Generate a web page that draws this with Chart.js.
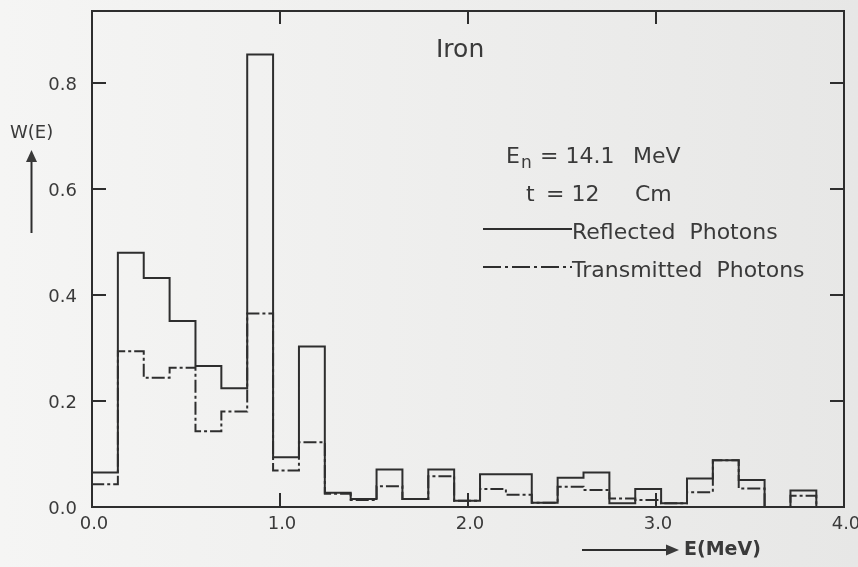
<!DOCTYPE html>
<html>
<head>
<meta charset="utf-8">
<script src="https://cdn.jsdelivr.net/npm/chart.js@4.4.0/dist/chart.umd.min.js"></script>
<style>
  html, body { margin: 0; padding: 0; }
  body {
    width: 858px; height: 567px; overflow: hidden;
    background: linear-gradient(to right, #f5f5f4 0%, #efefee 45%, #e7e7e6 100%);
  }
  #wrap { position: relative; width: 858px; height: 567px; }
</style>
</head>
<body>
<div id="wrap"><canvas id="spectrum"></canvas></div>
<script>
// photon spectrum W(E) per energy bin, iron slab, 14.1 MeV neutrons
const binWidth = 0.1376; // MeV
const reflected = [
  0.065, 0.480, 0.432, 0.351, 0.266, 0.224, 0.854, 0.094, 0.303, 0.027,
  0.015, 0.071, 0.015, 0.071, 0.012, 0.062, 0.062, 0.008, 0.055, 0.065,
  0.007, 0.034, 0.007, 0.054, 0.088, 0.051, 0.000, 0.031,
];
const transmitted = [
  0.043, 0.294, 0.244, 0.263, 0.143, 0.180, 0.365, 0.069, 0.122, 0.025,
  0.013, 0.039, 0.015, 0.058, 0.012, 0.034, 0.023, 0.008, 0.038, 0.032,
  0.016, 0.013, 0.007, 0.028, 0.088, 0.035, 0.000, 0.021,
];
const xTicks = [0, 1, 2, 3, 4];
const xTickLabels = ["0.0", "1.0", "2.0", "3.0", "4.0"];
const yTicks = [0, 0.2, 0.4, 0.6, 0.8];
const yTickLabels = ["0.0", "0.2", "0.4", "0.6", "0.8"];

const INK = "#2e2e2e";
const TEXT = "#3a3a3a";
const FONT = "'DejaVu Sans', sans-serif";

// histogram outline: one point per bin at its left edge; with stepped "before"
// the level holds across the bin and jumps at the next edge
function histogram(values) {
  const pts = [{ x: 0, y: 0 }];
  values.forEach((v, i) => pts.push({ x: i * binWidth, y: v }));
  pts.push({ x: values.length * binWidth, y: 0 });
  return pts;
}

const framePlugin = {
  id: "frame",
  afterDatasetsDraw(chart) {
    const ctx = chart.ctx;
    const { left, right, top, bottom } = chart.chartArea;
    const xs = chart.scales.x;
    const ys = chart.scales.y;
    const tick = 14;

    ctx.save();
    ctx.strokeStyle = INK;
    ctx.lineWidth = 2;
    ctx.strokeRect(left, top, right - left, bottom - top);

    ctx.beginPath();
    yTicks.forEach((v) => {
      if (v === 0) return;
      const y = ys.getPixelForValue(v);
      ctx.moveTo(left, y); ctx.lineTo(left + tick, y);
      ctx.moveTo(right, y); ctx.lineTo(right - tick, y);
    });
    xTicks.forEach((v) => {
      if (v === 0 || v === 4) return;
      const x = xs.getPixelForValue(v);
      ctx.moveTo(x, bottom); ctx.lineTo(x, bottom - tick);
      ctx.moveTo(x, top); ctx.lineTo(x, top + tick - 1);
    });
    ctx.stroke();

    // tick labels
    ctx.fillStyle = TEXT;
    ctx.font = "18px " + FONT;
    ctx.textBaseline = "middle";
    ctx.textAlign = "right";
    yTicks.forEach((v, i) => {
      ctx.fillText(yTickLabels[i], left - 15, ys.getPixelForValue(v) + 2);
    });
    ctx.textAlign = "center";
    xTicks.forEach((v, i) => {
      ctx.fillText(xTickLabels[i], xs.getPixelForValue(v) + 2, bottom + 17);
    });

    // axis titles with arrows
    ctx.textAlign = "left";
    ctx.font = "18px " + FONT;
    ctx.fillText("W(E)", 10, 133);
    ctx.beginPath();
    ctx.moveTo(31.5, 233); ctx.lineTo(31.5, 160);
    ctx.stroke();
    ctx.beginPath();
    ctx.moveTo(31.5, 150); ctx.lineTo(26, 162); ctx.lineTo(37, 162);
    ctx.closePath(); ctx.fill();

    ctx.font = "bold 19px " + FONT;
    ctx.fillText("E(MeV)", 684, 550);
    ctx.beginPath();
    ctx.moveTo(582, 550); ctx.lineTo(668, 550);
    ctx.stroke();
    ctx.beginPath();
    ctx.moveTo(679, 550); ctx.lineTo(666, 544.5); ctx.lineTo(666, 555.5);
    ctx.closePath(); ctx.fill();

    // title and run conditions
    ctx.font = "25px " + FONT;
    ctx.fillText("Iron", 436, 50);

    ctx.font = "22px " + FONT;
    ctx.fillText("E", 506, 157);
    ctx.font = "17px " + FONT;
    ctx.fillText("n", 521, 164);
    ctx.font = "22px " + FONT;
    ctx.fillText("= 14.1", 540, 157);
    ctx.fillText("MeV", 633, 157);
    ctx.fillText("t", 526, 195);
    ctx.fillText("= 12", 546, 195);
    ctx.fillText("Cm", 635, 195);

    // legend
    ctx.fillText("Reflected  Photons", 572, 233);
    ctx.fillText("Transmitted  Photons", 572, 271);
    ctx.beginPath();
    ctx.moveTo(483, 229); ctx.lineTo(572, 229);
    ctx.stroke();
    ctx.setLineDash([18, 4, 3, 4]);
    ctx.beginPath();
    ctx.moveTo(483, 267); ctx.lineTo(572, 267);
    ctx.stroke();
    ctx.restore();
  },
};

new Chart(document.getElementById("spectrum"), {
  type: "line",
  data: {
    datasets: [
      {
        label: "Transmitted Photons",
        data: histogram(transmitted),
        stepped: "before",
        borderColor: INK,
        borderWidth: 2,
        borderDash: [13, 3, 3, 3],
        pointRadius: 0,
        fill: false,
      },
      {
        label: "Reflected Photons",
        data: histogram(reflected),
        stepped: "before",
        borderColor: INK,
        borderWidth: 2,
        pointRadius: 0,
        fill: false,
      },
    ],
  },
  options: {
    responsive: true,
    maintainAspectRatio: false,
    animation: false,
    layout: { padding: { left: 92, right: 14, top: 11, bottom: 60 } },
    scales: {
      x: { type: "linear", min: 0, max: 4, display: false },
      y: { type: "linear", min: 0, max: 0.936, display: false },
    },
    plugins: {
      legend: { display: false },
      tooltip: { enabled: false },
    },
  },
  plugins: [framePlugin],
});
</script>
</body>
</html>
